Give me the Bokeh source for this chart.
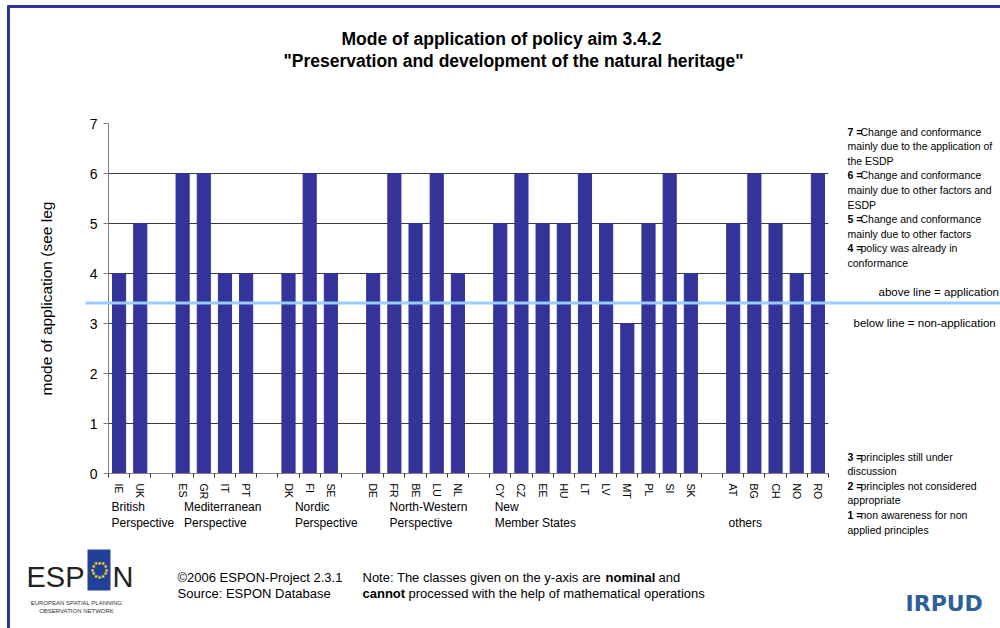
import math
from bokeh.plotting import figure
from bokeh.models import Range1d, FixedTicker
from bokeh.core.properties import value
from bokeh.embed import file_html
from bokeh.resources import INLINE

# ---------------- data ----------------
countries = ["IE", "UK",
             "ES", "GR", "IT", "PT",
             "DK", "FI", "SE",
             "DE", "FR", "BE", "LU", "NL",
             "CY", "CZ", "EE", "HU", "LT", "LV", "MT", "PL", "SI", "SK",
             "AT", "BG", "CH", "NO", "RO"]
values = [4, 5,
          6, 6, 4, 4,
          4, 6, 4,
          4, 6, 5, 6, 4,
          5, 6, 5, 5, 6, 5, 3, 5, 6, 4,
          5, 6, 5, 4, 6]
group_sizes = [2, 4, 3, 5, 10, 5]
group_line1 = ["British", "Mediterranean", "Nordic", "North-Western", "New", ""]
group_line2 = ["Perspective", "Perspective", "Perspective", "Perspective", "Member States", "others"]
y_ticks = [0, 1, 2, 3, 4, 5, 6, 7]
threshold = 3.41

legend_upper = [("7 =", "Change and conformance"), ("", "mainly due to the application of"), ("", "the ESDP"),
                ("6 =", "Change and conformance"), ("", "mainly due to other factors and"), ("", "ESDP"),
                ("5 =", "Change and conformance"), ("", "mainly due to other factors"),
                ("4 =", "policy was already in"), ("", "conformance")]
legend_lower = [("3 =", "principles still under"), ("", "discussion"),
                ("2 =", "principles not considered"), ("", "appropriate"),
                ("1 =", "non awareness for non"), ("", "applied principles")]

# ---------------- slot positions (groups separated by one empty slot) ----------------
centers = []
group_starts = []
cursor = 0
for size in group_sizes:
    group_starts.append(cursor)
    for k in range(size):
        centers.append(cursor + k + 0.5)
    cursor += size + 1
n_slots = cursor - 1

# page-pixel helpers for decorations (frame: x 108..828, y 123..473 on the page)
W, H = 1000, 628
FL, FR, FT, FB = 108, 828, 123, 473
def dx(px):
    return (px - FL) / (FR - FL) * n_slots
def dy(py):
    return (FB - py) / (FB - FT) * 7

FONT = "Liberation Sans"
BAR = "#333399"

p = figure(width=W, height=H, x_range=Range1d(0, n_slots), y_range=Range1d(0, 7),
           output_backend="svg", toolbar_location=None,
           min_border_left=FL, min_border_right=W - FR,
           min_border_top=FT, min_border_bottom=H - FB)
p.title.visible = False
p.outline_line_color = None
p.background_fill_color = "white"
p.border_fill_color = "white"

p.vbar(x=centers, top=values, width=0.62, fill_color=BAR, line_color=BAR)

# y axis
p.yaxis.ticker = FixedTicker(ticks=y_ticks)
p.yaxis.axis_line_color = "#808080"
p.yaxis.major_tick_line_color = "#808080"
p.yaxis.major_tick_out = 5
p.yaxis.major_tick_in = 0
p.yaxis.minor_tick_line_color = None
p.yaxis.major_label_text_font = FONT
p.yaxis.major_label_text_font_size = "14px"
p.yaxis.major_label_text_color = "black"
p.yaxis.major_label_standoff = 6
p.yaxis.axis_label = "mode of application (see leg"
p.yaxis.axis_label_text_font = FONT
p.yaxis.axis_label_text_font_size = "15.5px"
p.yaxis.axis_label_text_font_style = "normal"
p.yaxis.axis_label_text_color = "black"
p.yaxis.axis_label_standoff = 32
p.ygrid.ticker = FixedTicker(ticks=y_ticks)
p.ygrid.grid_line_color = "#3a3a3a"
p.xgrid.visible = False

# x axis: labels centred on bars, tick marks on slot boundaries
p.xaxis.ticker = FixedTicker(ticks=centers, minor_ticks=list(range(n_slots + 1)))
p.xaxis.major_label_overrides = {c: name for c, name in zip(centers, countries)}
p.xaxis.major_label_orientation = "vertical"
p.xaxis.major_label_text_font = FONT
p.xaxis.major_label_text_font_size = "10.5px"
p.xaxis.major_label_text_color = "black"
p.xaxis.major_label_standoff = 6
p.xaxis.major_tick_out = 0
p.xaxis.major_tick_in = 0
p.xaxis.minor_tick_out = 4
p.xaxis.minor_tick_in = 0
p.xaxis.minor_tick_line_color = "#333333"
p.xaxis.axis_line_color = "#808080"

# slide frame (top and left edges)
p.segment(x0=[dx(7), dx(8)], y0=[dy(6), dy(5)], x1=[dx(W), dx(8)], y1=[dy(6), dy(H)],
          line_color="#333399", line_width=3, level="overlay")

# threshold line (extends beyond the frame)
p.segment(x0=[dx(85)], y0=[threshold], x1=[dx(W)], y1=[threshold],
          line_color="#99ccff", line_width=3, level="overlay")

def lab(px, py, text, size, bold=False, align="left", color="black", font=FONT):
    p.text(x=[dx(px)], y=[dy(py)], text=[text], text_font=value(font),
           text_font_size=value(size), text_font_style="bold" if bold else "normal",
           text_align=align, text_baseline="middle", text_color=color, level="overlay")

# title
lab(501, 38, "Mode of application of policy aim 3.4.2", "17.5px", bold=True, align="center")
lab(513, 60, "\"Preservation and development of the natural heritage\"", "17.5px", bold=True, align="center")

# group labels
group_offsets_px = [3, 12, 17, 27, 5, 6]
for start, off, l1, l2 in zip(group_starts, group_offsets_px, group_line1, group_line2):
    px = FL + start * (FR - FL) / n_slots + off
    if l1:
        lab(px, 506, l1, "12px")
    lab(px, 522, l2, "12px")

# legend texts
def legend_block(items, y0, step=14.6):
    for i, (num, txt) in enumerate(items):
        y = y0 + i * step
        if num:
            lab(847, y, num, "10.5px", bold=True)
            lab(860, y, txt, "10.5px")
        else:
            lab(847, y, txt, "10.5px")

legend_block(legend_upper, 131)
legend_block(legend_lower, 456)
lab(878, 291, "above line = application", "11.5px")
lab(853, 322, "below line = non-application", "11.5px")

# footer
lab(177, 577, "\u00a92006  ESPON-Project 2.3.1", "13px")
lab(177, 593, "Source: ESPON Database", "13px")
lab(362, 577, "Note: The classes given on the y-axis are", "13px")
lab(605, 577, "nominal", "13px", bold=True)
lab(658, 577, "and", "13px")
lab(362, 593, "cannot", "13px", bold=True)
lab(408, 593, "processed with the help of mathematical operations", "13px")

# ESPON logo
p.quad(left=[dx(87)], right=[dx(110)], top=[dy(549)], bottom=[dy(590)],
       fill_color="#22409a", line_color=None, level="overlay")
for k in range(12):
    lab(99 + 7 * math.cos(2 * math.pi * k / 12), 569 - 7 * math.sin(2 * math.pi * k / 12),
        "\u2605", "5px", align="center", color="#ffe600", font="DejaVu Sans")
lab(26, 576, "ESP", "29px", color="#222222")
lab(112, 576, "N", "29px", color="#222222")
lab(76, 602, "EUROPEAN SPATIAL PLANNING", "6px", align="center", color="#333333")
lab(76, 610, "OBSERVATION NETWORK", "6px", align="center", color="#333333")

# IRPUD logo
lab(905, 603, "IRPUD", "22px", bold=True, color="#2e5f99", font="DejaVu Sans")

open("out.html", "w").write(file_html(p, INLINE))
